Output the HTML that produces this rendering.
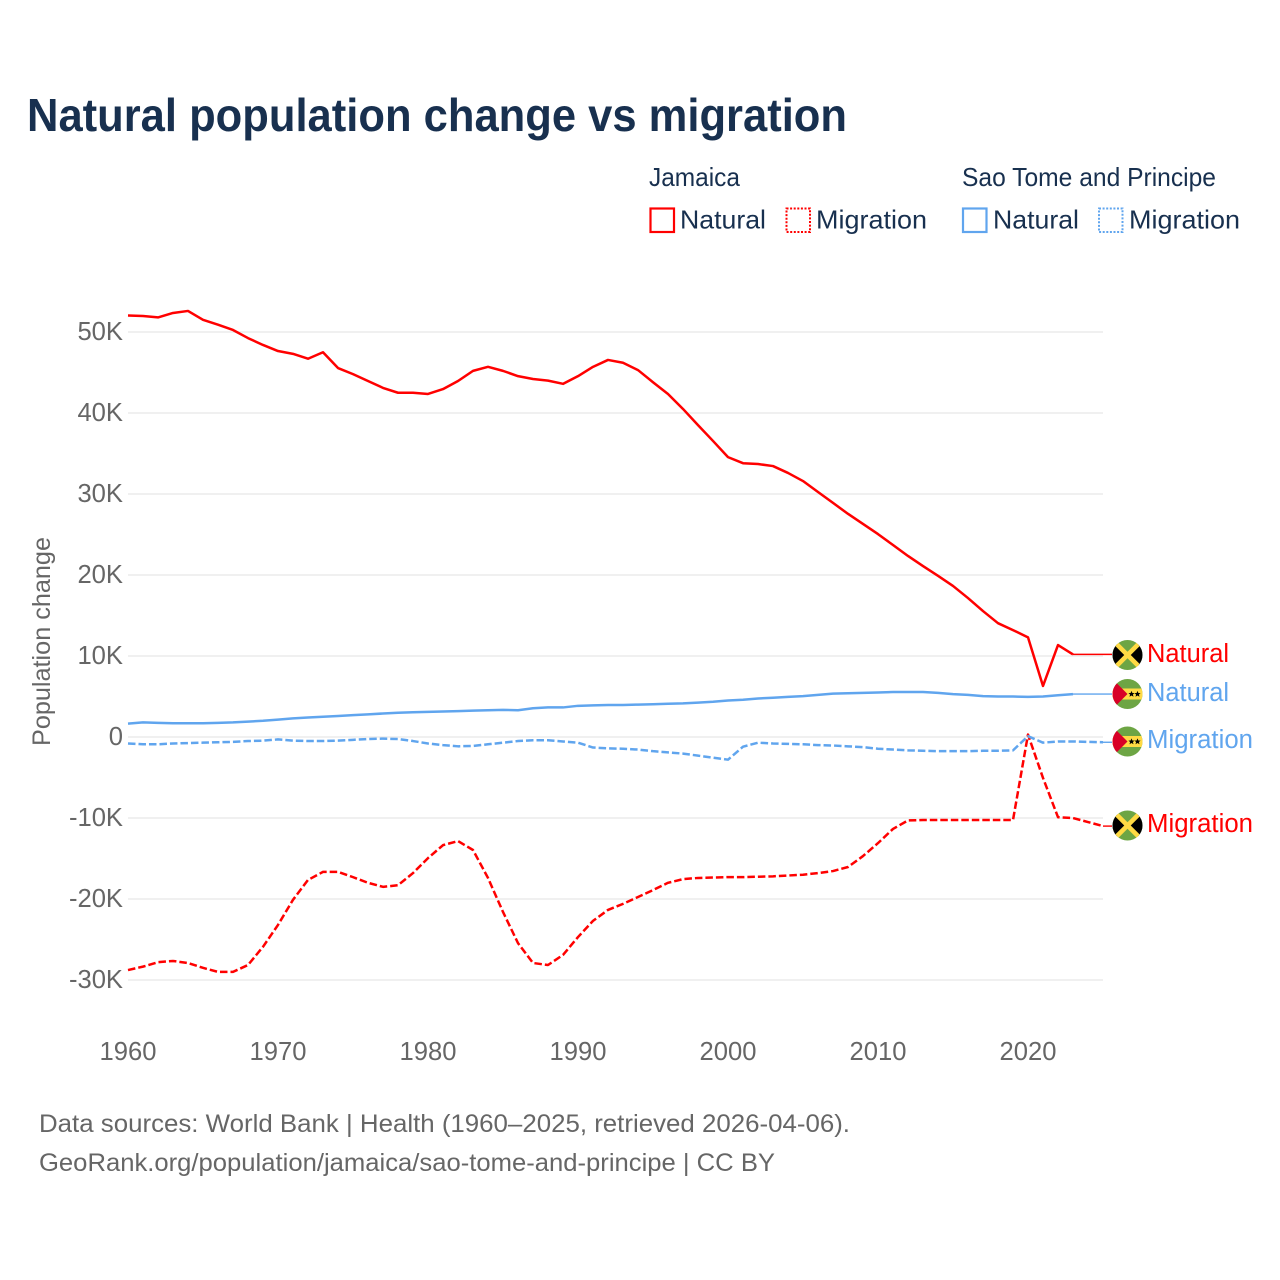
<!DOCTYPE html>
<html lang="en">
<head>
<meta charset="utf-8">
<title>Natural population change vs migration</title>
<style>
html,body{margin:0;padding:0;background:#fff}
svg{display:block}
text{font-family:"Liberation Sans",sans-serif}
</style>
</head>
<body>
<svg id="chart" xmlns="http://www.w3.org/2000/svg" width="1280" height="1280" viewBox="0 0 1280 1280">
  <rect width="1280" height="1280" fill="#fff"/>
  <text x="27" y="131" font-size="46" font-weight="700" fill="#18304f" textLength="820" lengthAdjust="spacingAndGlyphs">Natural population change vs migration</text>

  <g fill="#18304f" font-size="26">
    <text x="649" y="186" textLength="91" lengthAdjust="spacingAndGlyphs">Jamaica</text>
    <text x="962" y="186" textLength="254" lengthAdjust="spacingAndGlyphs">Sao Tome and Principe</text>
    <rect x="650.5" y="208.5" width="23.5" height="23.5" fill="none" stroke="#ff0000" stroke-width="2.2"/>
    <text x="680" y="228.5" textLength="86" lengthAdjust="spacingAndGlyphs">Natural</text>
    <rect x="786.5" y="208.5" width="23.5" height="23.5" fill="none" stroke="#ff0000" stroke-width="2" stroke-dasharray="2 1.6"/>
    <text x="816" y="228.5" textLength="111" lengthAdjust="spacingAndGlyphs">Migration</text>
    <rect x="963" y="208.5" width="23.5" height="23.5" fill="none" stroke="#60a5ee" stroke-width="2.2"/>
    <text x="993" y="228.5" textLength="86" lengthAdjust="spacingAndGlyphs">Natural</text>
    <rect x="1099" y="208.5" width="23.5" height="23.5" fill="none" stroke="#60a5ee" stroke-width="2" stroke-dasharray="2 1.6"/>
    <text x="1129" y="228.5" textLength="111" lengthAdjust="spacingAndGlyphs">Migration</text>
  </g>

  <g id="grid"></g>
  <g id="yticks" fill="#666" font-size="25.6" text-anchor="end"></g>
  <g id="xticks" fill="#666" font-size="25.6" text-anchor="middle"></g>
  <text transform="translate(50 746) rotate(-90)" fill="#666" font-size="25" textLength="209" lengthAdjust="spacingAndGlyphs">Population change</text>
  <g id="series"></g>

  <defs>
    <clipPath id="flag-clip"><circle cx="0" cy="0" r="15"/></clipPath>
    <g id="flag-jm">
      <g clip-path="url(#flag-clip)">
        <rect x="-15" y="-15" width="30" height="30" fill="#6da544"/>
        <path d="M-15 -15L0 0L-15 15Z" fill="#000"/>
        <path d="M15 -15L0 0L15 15Z" fill="#000"/>
        <path d="M-15 -15L15 15M15 -15L-15 15" stroke="#ffda44" stroke-width="4.6" fill="none"/>
      </g>
    </g>
    <g id="flag-st">
      <g clip-path="url(#flag-clip)">
        <rect x="-15" y="-15" width="30" height="30" fill="#6da544"/>
        <rect x="-15" y="-5.5" width="30" height="11" fill="#ffda44"/>
        <path d="M-15 -15L0 0L-15 15Z" fill="#d80027"/>
        <path d="M4 -3.1l.9 2.1 2.2.1-1.7 1.4.6 2.2-2-1.2-2 1.2.6-2.2-1.7-1.4 2.2-.1Z" fill="#000"/>
        <path d="M10 -3.1l.9 2.1 2.2.1-1.7 1.4.6 2.2-2-1.2-2 1.2.6-2.2-1.7-1.4 2.2-.1Z" fill="#000"/>
      </g>
    </g>
  </defs>

  <g font-size="25.5">
    <use href="#flag-jm" x="1127.5" y="655"/>
    <text x="1147" y="662" fill="#ff0000" textLength="82" lengthAdjust="spacingAndGlyphs">Natural</text>
    <use href="#flag-st" x="1127.5" y="694"/>
    <text x="1147" y="701" fill="#60a5ee" textLength="82" lengthAdjust="spacingAndGlyphs">Natural</text>
    <use href="#flag-st" x="1127.5" y="741.5"/>
    <text x="1147" y="748" fill="#60a5ee" textLength="106" lengthAdjust="spacingAndGlyphs">Migration</text>
    <use href="#flag-jm" x="1127.5" y="825.5"/>
    <text x="1147" y="832" fill="#ff0000" textLength="106" lengthAdjust="spacingAndGlyphs">Migration</text>
  </g>

  <g fill="#666" font-size="25">
    <text x="39" y="1132" textLength="811" lengthAdjust="spacingAndGlyphs">Data sources: World Bank | Health (1960–2025, retrieved 2026-04-06).</text>
    <text x="39" y="1171" textLength="736" lengthAdjust="spacingAndGlyphs">GeoRank.org/population/jamaica/sao-tome-and-principe | CC BY</text>
  </g>
</svg>
<script>
const yTickValues = [50, 40, 30, 20, 10, 0, -10, -20, -30];
const yTickLabels = ["50K", "40K", "30K", "20K", "10K", "0", "-10K", "-20K", "-30K"];
const xTickYears = [1960, 1970, 1980, 1990, 2000, 2010, 2020];
const firstYear = 1960;
const lastYear = 2025;

const jamaicaNatural = [52.04,51.98,51.8,52.35,52.6,51.5,50.9,50.25,49.25,48.4,47.65,47.3,46.7,47.5,45.55,44.8,43.95,43.1,42.5,42.5,42.35,42.95,43.95,45.2,45.7,45.2,44.55,44.2,44.0,43.6,44.55,45.7,46.55,46.2,45.3,43.8,42.35,40.5,38.5,36.55,34.55,33.8,33.7,33.45,32.6,31.6,30.25,28.9,27.55,26.3,25.05,23.7,22.35,21.1,19.9,18.65,17.15,15.55,14.05,13.2,12.3,6.3,11.35,10.2];
const jamaicaMigration = [-28.77,-28.35,-27.8,-27.65,-27.9,-28.5,-29,-29,-28.15,-25.9,-23.2,-20.1,-17.65,-16.65,-16.65,-17.3,-18,-18.5,-18.3,-16.8,-14.95,-13.35,-12.85,-13.95,-17.4,-21.6,-25.45,-27.9,-28.15,-26.9,-24.7,-22.7,-21.35,-20.6,-19.75,-18.9,-18,-17.55,-17.4,-17.35,-17.3,-17.3,-17.25,-17.2,-17.1,-17.0,-16.8,-16.55,-16.05,-14.7,-13.1,-11.35,-10.3,-10.25,-10.25,-10.25,-10.25,-10.25,-10.25,-10.25,0.3,-5.05,-9.9,-10,-10.5,-11];
const saoTomeNatural = [1.65,1.8,1.75,1.7,1.7,1.7,1.75,1.8,1.9,2.0,2.15,2.3,2.4,2.5,2.6,2.7,2.8,2.9,3.0,3.05,3.1,3.15,3.2,3.25,3.3,3.35,3.3,3.55,3.65,3.65,3.85,3.9,3.95,3.95,4.0,4.05,4.1,4.15,4.25,4.35,4.5,4.6,4.75,4.85,4.95,5.05,5.2,5.35,5.4,5.45,5.5,5.55,5.55,5.55,5.45,5.3,5.2,5.05,5.0,5.0,4.95,5.0,5.15,5.3];
const saoTomeMigration = [-0.8,-0.9,-0.9,-0.8,-0.75,-0.7,-0.65,-0.6,-0.5,-0.45,-0.3,-0.45,-0.5,-0.5,-0.45,-0.35,-0.25,-0.2,-0.25,-0.5,-0.8,-1.0,-1.15,-1.1,-0.9,-0.7,-0.5,-0.4,-0.4,-0.55,-0.7,-1.3,-1.4,-1.45,-1.55,-1.75,-1.9,-2.05,-2.3,-2.55,-2.8,-1.2,-0.7,-0.8,-0.85,-0.9,-1.0,-1.05,-1.15,-1.25,-1.45,-1.55,-1.65,-1.7,-1.75,-1.75,-1.75,-1.7,-1.7,-1.65,0.1,-0.7,-0.55,-0.55,-0.6,-0.65];

const RED = "#ff0000";
const BLUE = "#60a5ee";
const NS = "http://www.w3.org/2000/svg";

function xScale(year) { return 128 + (year - firstYear) * 15; }
function yScale(k) { return 737 - k * 8.1; }

function make(tag, parent, attrs) {
  const el = document.createElementNS(NS, tag);
  for (const k in attrs) el.setAttribute(k, attrs[k]);
  parent.appendChild(el);
  return el;
}

const grid = document.getElementById("grid");
const yticks = document.getElementById("yticks");
const xticks = document.getElementById("xticks");
const seriesLayer = document.getElementById("series");

yTickValues.forEach(function (v, i) {
  const line = make("line", grid, { x1: xScale(firstYear), x2: xScale(lastYear), y1: yScale(v), y2: yScale(v), stroke: "#ececec", "stroke-width": 1.4 });
  
  
  const label = make("text", yticks, { x: 123, y: yScale(v) + 8 });
  label.textContent = yTickLabels[i];
  
  
});

xTickYears.forEach(function (year) {
  const label = make("text", xticks, { x: xScale(year), y: 1060 });
  label.textContent = String(year);
  
  
});

function drawSeries(values, color, dashed, name) {
  const pts = values.map(function (v, i) { return xScale(firstYear + i) + "," + yScale(v); });
  const attrs = { points: pts.join(" "), fill: "none", stroke: color, "stroke-width": 2.5, "stroke-linejoin": "round" };
  if (dashed) attrs["stroke-dasharray"] = "7.5 3";
  const line = make("polyline", seriesLayer, attrs);
  
  
  const lastX = xScale(firstYear + values.length - 1);
  const lastY = yScale(values[values.length - 1]);
  const connector = make("line", seriesLayer, { x1: lastX, y1: lastY, x2: 1112, y2: lastY, stroke: color, "stroke-width": 1.4 });
  
  
}

drawSeries(jamaicaNatural, RED, false, 'line-jamaica-natural');
drawSeries(jamaicaMigration, RED, true, 'line-jamaica-migration');
drawSeries(saoTomeNatural, BLUE, false, 'line-sao-tome-natural');
drawSeries(saoTomeMigration, BLUE, true, 'line-sao-tome-migration');
</script>
</body>
</html>
